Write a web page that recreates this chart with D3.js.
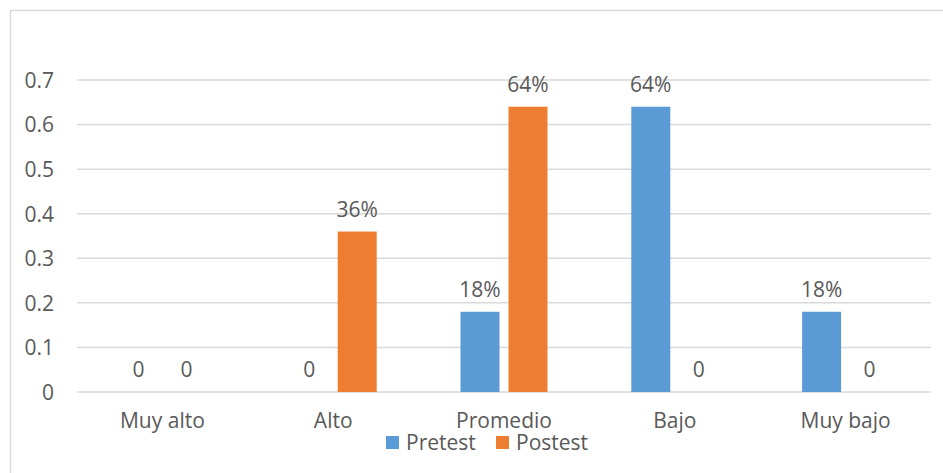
<!DOCTYPE html>
<html><head><meta charset="utf-8">
<script src="https://cdn.jsdelivr.net/npm/d3@7"></script>
<style>body{margin:0;background:#fff}svg{display:block}text{font-family:"Open Sans",Lato,sans-serif;fill:#595959}</style>
</head><body>
<script>
const categories = ["Muy alto","Alto","Promedio","Bajo","Muy bajo"];
const seriesNames = ["Pretest","Postest"];
const pretest = [0,0,0.18,0.64,0.18];
const postest = [0,0.36,0.64,0,0];
const pretestLabels = ["0","0","18%","64%","18%"];
const postestLabels = ["0","36%","64%","0","0"];
const yTicks = [0,0.1,0.2,0.3,0.4,0.5,0.6,0.7];
const colors = ["#5B9BD5","#ED7D31"];

const W=943,H=473, FS=21;
const FF='"Open Sans",Lato,sans-serif';
const svg=d3.select("body").append("svg").attr("width",W).attr("height",H);
svg.append("rect").attr("x",10.5).attr("y",10.5).attr("width",945).attr("height",475)
  .attr("fill","none").attr("stroke","#d9d9d9").attr("stroke-width",1.5);

const x=d3.scaleBand().domain(categories).range([77,931]);
const y=d3.scaleLinear().domain([0,0.7]).range([392,80]);
const barW=39, gap=9;

svg.append("g").selectAll("line").data(yTicks).join("line")
  .attr("x1",77).attr("x2",931).attr("y1",d=>y(d)).attr("y2",d=>y(d))
  .attr("stroke","#d9d9d9").attr("stroke-width",1.5);

const yAxis=d3.axisLeft(y).tickValues(yTicks).tickFormat(d=>d===0?"0":d3.format(".1f")(d)).tickSize(0).tickPadding(0);
const ga=svg.append("g").attr("transform","translate(54,0)").call(yAxis);
ga.select(".domain").remove();
ga.selectAll("text").attr("font-size",FS).attr("fill","#595959").attr("font-family",FF).attr("dy","0.35em");

const xAxis=d3.axisBottom(x).tickSize(0).tickPadding(0);
const gx=svg.append("g").attr("transform","translate(0,428)").call(xAxis);
gx.select(".domain").remove();
gx.selectAll("text").attr("font-size",FS).attr("fill","#595959").attr("font-family",FF).attr("dy",0);

const series=[{vals:pretest,labels:pretestLabels},{vals:postest,labels:postestLabels}];
series.forEach((s,si)=>{
  const off = si===0 ? -gap/2-barW : gap/2;
  const g=svg.append("g");
  g.selectAll("rect").data(categories).join("rect")
    .attr("x",(c)=>x(c)+x.bandwidth()/2+off)
    .attr("y",(c,i)=>y(s.vals[i]))
    .attr("width",barW)
    .attr("height",(c,i)=>y(0)-y(s.vals[i]))
    .attr("fill",colors[si]);
  g.selectAll("text").data(categories).join("text")
    .attr("x",(c)=>x(c)+x.bandwidth()/2+off+barW/2)
    .attr("y",(c,i)=>y(s.vals[i])-15)
    .attr("text-anchor","middle").attr("font-size",FS)
    .text((c,i)=>s.labels[i]);
});

const leg=svg.append("g");
const legX=[386,496];
seriesNames.forEach((n,i)=>{
  leg.append("rect").attr("x",legX[i]).attr("y",436).attr("width",13).attr("height",13).attr("fill",colors[i]);
  leg.append("text").attr("x",legX[i]+20).attr("y",450).attr("font-size",FS).text(n);
});
</script>
</body></html>
